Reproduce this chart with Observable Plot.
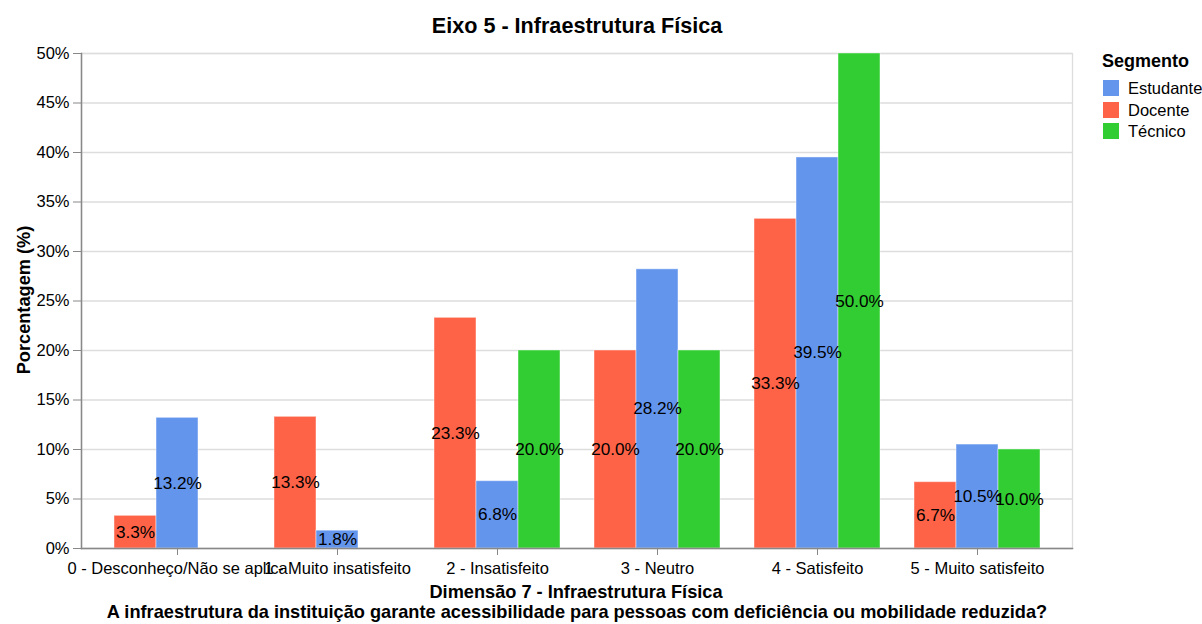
<!DOCTYPE html>
<html><head><meta charset="utf-8">
<script src="https://cdn.jsdelivr.net/npm/d3@7"></script>
<script src="https://cdn.jsdelivr.net/npm/@observablehq/plot@0.6"></script>
<style>
body{margin:0;background:#fff;font-family:"Liberation Sans",Arial,sans-serif;}
#wrap{position:relative;width:1202px;height:624px;}
#wrap svg{position:absolute;left:0;top:0;}
.t{position:absolute;font-weight:bold;color:#000;white-space:nowrap;}
</style></head><body>
<div id="wrap"></div>
<script>
const categories = ["0 - Desconheço/Não se aplica","1 - Muito insatisfeito","2 - Insatisfeito","3 - Neutro","4 - Satisfeito","5 - Muito satisfeito"];
const segments = ["Docente","Estudante","Técnico"];
const legendOrder = ["Estudante","Docente","Técnico"];
const colors = {Estudante:"#6495ED", Docente:"#FF6347", "Técnico":"#32CD32"};
const docente   = [3.3, 13.3, 23.3, 20.0, 33.3, 6.7];
const estudante = [13.2, 1.8, 6.8, 28.2, 39.5, 10.5];
const tecnico   = [null, null, 20.0, 20.0, 50.0, 10.0];
const yTicks = [0,5,10,15,20,25,30,35,40,45,50];

const series = {Docente: docente, Estudante: estudante, "Técnico": tecnico};
const data = [];
categories.forEach((c,i)=>segments.forEach(s=>{const v=series[s][i]; if(v!=null) data.push({cat:c,seg:s,value:v});}));

const wrap = document.getElementById("wrap");
const common = {
  width:1202, height:624,
  marginTop:53, marginBottom:76, marginLeft:81, marginRight:130,
  style:{fontFamily:'"Liberation Sans",Arial,sans-serif', fontSize:"16.5px", color:"#000", background:"transparent", overflow:"visible"}
};
try {
// background: grid, y axis, frame
const back = Plot.plot({
  ...common,
  y:{domain:[0,50], label:null, axis:null},
  marks:[
    Plot.gridY(yTicks, {stroke:"#ddd", strokeOpacity:1, strokeWidth:1.3}),
    Plot.frame({stroke:"#ddd", strokeWidth:1.3}),
    Plot.axisY({ticks:yTicks, tickFormat:d=>d+"%", tickSize:8, tickPadding:4, fontSize:16.5, stroke:"#888", label:null})
  ]
});
wrap.appendChild(back);
// foreground: grouped bars with category axis
const front = Plot.plot({
  ...common,
  fx:{domain:categories, paddingInner:0.2, paddingOuter:0.19, label:null, axis:null},
  x:{domain:segments, padding:0, axis:null},
  y:{domain:[0,50], label:null, axis:null},
  color:{domain:legendOrder, range:legendOrder.map(s=>colors[s])},
  marks:[
    Plot.barY(data, {fx:"cat", x:"seg", y:"value", fill:"seg", stroke:"white", strokeOpacity:0.45, strokeWidth:1}),
    Plot.text(data, {fx:"cat", x:"seg", y:d=>d.value/2, text:d=>d.value.toFixed(1)+"%", fill:"black", fontSize:17.2}),
    Plot.axisFx({anchor:"bottom", tickSize:7, tickPadding:7, fontSize:16.5, stroke:"#888", label:null})
  ]
});
wrap.appendChild(front);
// axis lines on top
const lines = Plot.plot({
  ...common,
  y:{domain:[0,50], axis:null},
  marks:[
    Plot.frame({anchor:"left", stroke:"#888", strokeWidth:1.5}),
    Plot.frame({anchor:"bottom", stroke:"#888", strokeWidth:1.5})
  ]
});
wrap.appendChild(lines);
} catch(e) { const d=document.createElement("div"); d.textContent="ERR "+e.message; wrap.appendChild(d); }

function addText(txt, css){const d=document.createElement("div");d.className="t";d.textContent=txt;Object.assign(d.style,css);wrap.appendChild(d);return d;}
addText("Eixo 5 - Infraestrutura Física",{left:"577px",top:"26px",fontSize:"21.6px",transform:"translate(-50%,-50%)"});
addText("Porcentagem (%)",{left:"24px",top:"300px",fontSize:"18.2px",transform:"translate(-50%,-50%) rotate(-90deg)"});
addText("Dimensão 7 - Infraestrutura Física",{left:"576px",top:"592px",fontSize:"18.2px",transform:"translate(-50%,-50%)"});
addText("A infraestrutura da instituição garante acessibilidade para pessoas com deficiência ou mobilidade reduzida?",{left:"577px",top:"612px",fontSize:"18.2px",transform:"translate(-50%,-50%)"});
addText("Segmento",{left:"1102px",top:"61px",fontSize:"18px",transform:"translate(0,-50%)"});
legendOrder.forEach((s,i)=>{
  const sw=document.createElement("div");
  Object.assign(sw.style,{position:"absolute",left:"1103px",top:(80+i*21.5)+"px",width:"16px",height:"16px",background:colors[s]});
  wrap.appendChild(sw);
  addText(s,{left:"1128px",top:(88+i*21.5)+"px",fontSize:"16.5px",fontWeight:"normal",transform:"translate(0,-50%)"});
});
</script>
</body></html>
